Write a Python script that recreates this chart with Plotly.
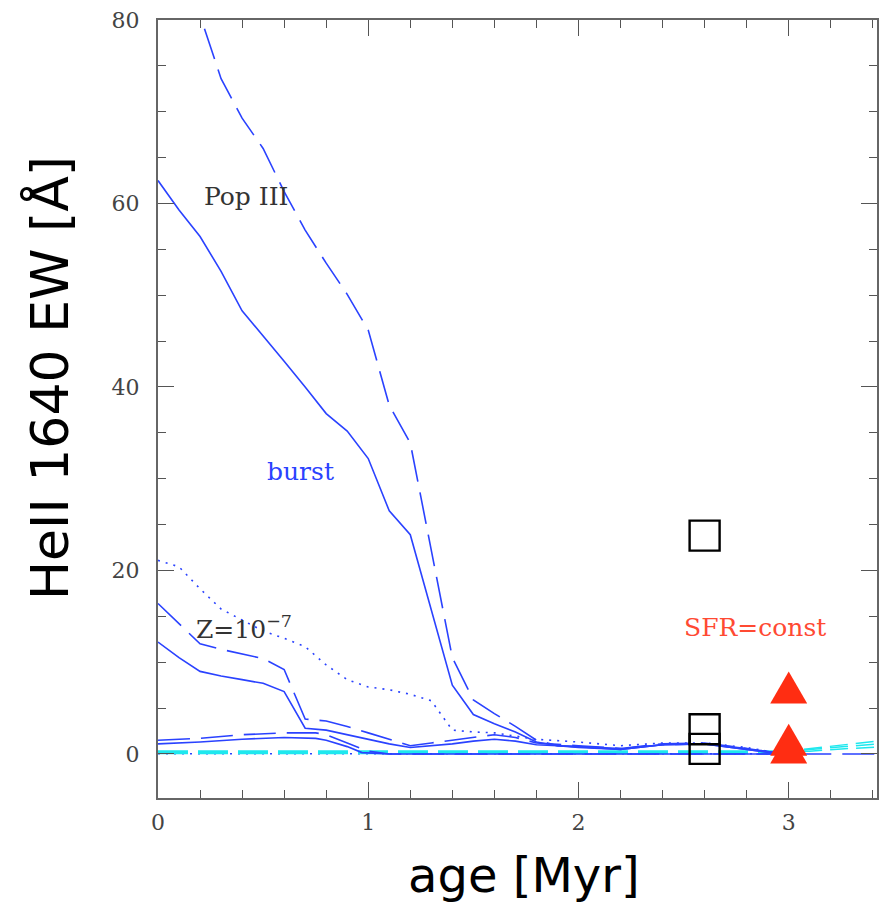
import plotly.graph_objects as go

# ---- model tracks: HeII 1640 equivalent width versus age ----
# Pop III, instantaneous burst (two IMFs)
age_pop3_dash = [0.1, 0.2, 0.3, 0.4, 0.5, 0.6, 0.7, 0.8, 0.9, 1.0, 1.1, 1.2, 1.4, 1.5,
                 1.6, 1.7, 1.8, 1.9, 2.0, 2.2, 2.4, 2.6, 2.8, 2.95]
ew_pop3_dash = [88.0, 80.5, 73.6, 69.3, 66.0, 61.3, 57.1, 53.5, 50.1, 46.2, 38.0, 33.9, 10.5, 5.9,
                4.4, 3.0, 1.5, 0.9, 0.8, 0.6, 1.0, 1.1, 0.6, 0.1]

age_pop3_solid = [0.0, 0.1, 0.2, 0.3, 0.4, 0.5, 0.6, 0.7, 0.8, 0.9, 1.0, 1.1, 1.2, 1.4, 1.5,
                  1.6, 1.7, 1.8, 1.9, 2.0, 2.2, 2.4, 2.6, 2.8, 2.95]
ew_pop3_solid = [62.5, 59.3, 56.4, 52.6, 48.3, 45.6, 42.8, 40.0, 37.1, 35.2, 32.2, 26.5, 23.9, 7.5, 4.3,
                 3.3, 2.4, 1.3, 0.9, 0.7, 0.5, 1.0, 1.1, 0.5, 0.05]

# Z = 1e-7 burst tracks
age_z7_dot = [0.0, 0.1, 0.2, 0.3, 0.4, 0.5, 0.6, 0.7, 0.8, 0.9, 1.0, 1.1, 1.2, 1.3, 1.4, 1.5,
              1.6, 1.8, 2.0, 2.2, 2.4, 2.6, 2.8, 2.95]
ew_z7_dot = [21.1, 20.4, 18.0, 15.8, 14.6, 13.4, 12.6, 11.7, 9.7, 8.1, 7.3, 7.0, 6.5, 5.8, 2.6, 2.4,
             2.3, 1.6, 1.3, 0.9, 1.2, 1.2, 0.7, 0.1]

age_z7 = [0.0, 0.1, 0.2, 0.3, 0.4, 0.5, 0.6, 0.7, 0.8, 0.9, 1.0, 1.1, 1.2, 1.3, 1.4, 1.5,
          1.6, 1.7, 1.8, 2.0, 2.2, 2.4, 2.6, 2.8, 2.95]
ew_z7_dash = [16.4, 14.2, 12.0, 11.4, 10.9, 10.4, 9.2, 3.8, 3.6, 3.0, 2.3, 1.6, 0.9, 1.2, 1.5, 1.8,
              2.1, 1.8, 1.2, 0.9, 0.6, 1.1, 1.2, 0.6, 0.1]
ew_z7_solid = [12.2, 10.5, 9.0, 8.5, 8.1, 7.7, 6.8, 2.8, 2.6, 2.1, 1.6, 1.1, 0.7, 0.9, 1.1, 1.4,
               1.6, 1.4, 1.0, 0.8, 0.5, 1.0, 1.1, 0.5, 0.05]

# Higher-metallicity burst tracks (weak HeII)
age_low_dash = [0.0, 0.2, 0.4, 0.6, 0.75, 0.8, 0.9, 1.0, 1.1, 2.0, 3.0, 3.42]
ew_low_dash = [1.5, 1.7, 2.1, 2.3, 2.3, 2.1, 1.2, 0.3, 0.0, 0.0, 0.0, 0.0]
age_low_solid = [0.0, 0.2, 0.4, 0.6, 0.75, 0.8, 0.9, 0.97, 1.1, 2.0, 2.95]
ew_low_solid = [1.1, 1.3, 1.6, 1.8, 1.7, 1.5, 0.8, 0.15, 0.0, 0.0, 0.0]
age_low_dot = [0.0, 1.5, 2.95]
ew_low_dot = [0.02, 0.02, 0.02]

# Constant star formation tracks (cyan)
age_const = [0.0, 1.0, 2.0, 2.95]
ew_const = [0.2, 0.2, 0.2, 0.2]
age_const_tail = [2.95, 3.1, 3.25, 3.42]
ew_const_tail_a = [0.2, 0.6, 1.0, 1.4]
ew_const_tail_b = [0.2, 0.5, 0.8, 1.1]
ew_const_tail_c = [0.2, 0.3, 0.55, 0.75]

# Observational points
age_squares = [2.6, 2.6, 2.6]
ew_squares = [23.8, 2.7, 0.55]
age_triangles = [3.0, 3.0, 3.0]
ew_triangles = [7.25, 1.55, 0.7]

# Axis ticks
x_ticks = [0, 1, 2, 3]
y_ticks = [0, 20, 40, 60, 80]

BLUE = "#2a42ff"
CYAN = "#1ee8ee"
RED = "#ff2d12"
LONGDASH = "32px,11px"

fig = go.Figure()


def track(x, y, color=BLUE, width=1.6, dash="solid"):
    fig.add_trace(go.Scatter(x=x, y=y, mode="lines",
                             line=dict(color=color, width=width, dash=dash),
                             showlegend=False, hoverinfo="skip"))


track(age_low_dot, ew_low_dot, dash="2px,6px")
track(age_const, ew_const, color=CYAN, width=4, dash="30px,10px")
for tail in (ew_const_tail_a, ew_const_tail_b, ew_const_tail_c):
    track(age_const_tail, tail, color=CYAN, width=1.5, dash="18px,8px")
track(age_low_solid, ew_low_solid)
track(age_low_dash, ew_low_dash, dash=LONGDASH)
track(age_z7, ew_z7_solid)
track(age_z7, ew_z7_dash, dash=LONGDASH)
track(age_z7_dot, ew_z7_dot, dash="2px,6px")
track(age_pop3_solid, ew_pop3_solid)
track(age_pop3_dash, ew_pop3_dash, dash=LONGDASH)

# open squares
fig.add_trace(go.Scatter(x=age_squares, y=ew_squares, mode="markers",
                         marker=dict(symbol="square-open", size=30, color="black",
                                     line=dict(width=2.4, color="black")),
                         showlegend=False, hoverinfo="skip"))

# filled equilateral triangles, sized in screen pixels around each data point
side = 37.0
h = side * 0.866
for xv, yv in zip(age_triangles, ew_triangles):
    path = (f"M {-side / 2:.2f},{-h / 2:.2f} L {side / 2:.2f},{-h / 2:.2f} "
            f"L 0,{h / 2:.2f} Z")
    fig.add_shape(type="path", xref="x", yref="y", xsizemode="pixel", ysizemode="pixel",
                  xanchor=xv, yanchor=yv, path=path, fillcolor=RED,
                  line=dict(width=0), layer="above")

serif = "DejaVu Serif"
notes = [
    dict(x=0.418, y=60.8, text="Pop III", color="#333333"),
    dict(x=0.679, y=30.8, text="burst", color=BLUE),
    dict(x=0.41, y=13.8, text="Z=10<sup>\u22127</sup>", color="#333333"),
    dict(x=2.84, y=13.8, text="SFR=const", color="#ff4a33"),
]
for n in notes:
    fig.add_annotation(x=n["x"], y=n["y"], xref="x", yref="y", text=n["text"],
                       showarrow=False, xanchor="center", yanchor="middle",
                       font=dict(family=serif, size=25, color=n["color"]))

# axis titles
fig.add_annotation(x=-0.15, y=0.54, xref="paper", yref="paper", text="HeII 1640 EW [Å]",
                   textangle=-90, showarrow=False, xanchor="center", yanchor="middle",
                   font=dict(family="DejaVu Sans", size=52, color="black"))
fig.add_annotation(x=0.509, y=-0.099, xref="paper", yref="paper", text="age [Myr]",
                   showarrow=False, xanchor="center", yanchor="middle",
                   font=dict(family="DejaVu Sans", size=48, color="black"))

axis_common = dict(showline=True, linecolor="#666666", linewidth=2, mirror="allticks",
                   ticks="inside", ticklen=16, tickwidth=1.3, tickcolor="#555555",
                   showgrid=False, zeroline=False,
                   tickfont=dict(family=serif, size=22, color="#444444"))

fig.update_xaxes(range=[0, 3.42], tickvals=x_ticks, ticktext=[str(v) for v in x_ticks],
                 minor=dict(ticks="inside", ticklen=8, dtick=0.2, tick0=0,
                            tickcolor="#555555", tickwidth=1.3, showgrid=False),
                 ticklabelstandoff=4, **axis_common)
fig.update_yaxes(range=[-4.8, 80], tickvals=y_ticks, ticktext=[str(v) for v in y_ticks],
                 minor=dict(ticks="inside", ticklen=8, dtick=5, tick0=0,
                            tickcolor="#555555", tickwidth=1.3, showgrid=False),
                 ticklabelstandoff=12, **axis_common)

fig.update_layout(width=881, height=904, margin=dict(l=158, r=2, t=20, b=106),
                  plot_bgcolor="white", paper_bgcolor="white", showlegend=False)

fig.write_html("out.html")
